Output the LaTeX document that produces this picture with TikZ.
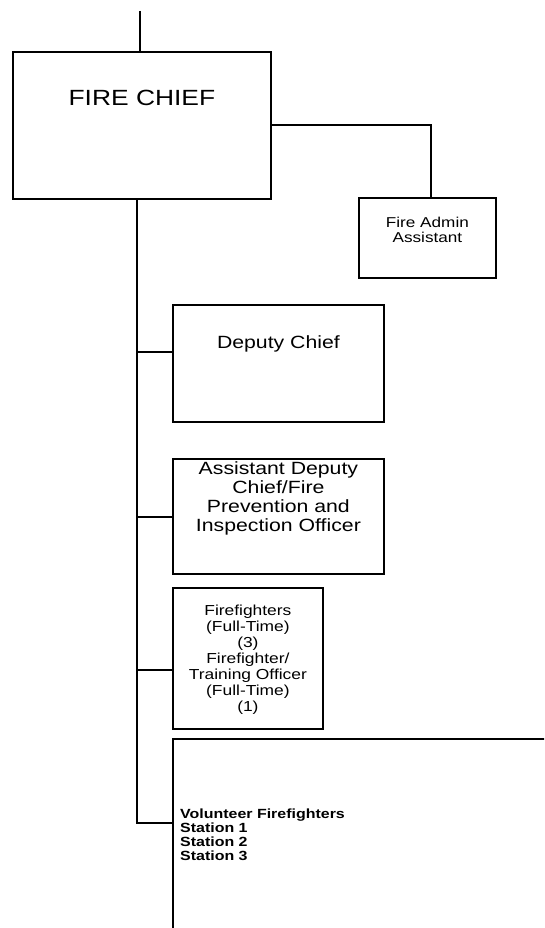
\documentclass[tikz,border=0pt]{standalone}
\usepackage{fontspec}
\setmainfont{Liberation Sans}[FakeStretch=1.2]

\begin{document}
\begin{tikzpicture}[x=1pt, y=-1pt,
    box/.style={draw, line width=1.8pt, anchor=north west, inner sep=0pt},
    link/.style={line width=1.8pt},
    txt/.style={align=center, inner sep=0pt}]

\useasboundingbox (0,0) rectangle (544,928);
\clip (0,0) rectangle (544,928);

% Fire Chief (oben)
\node[box, minimum width=258pt, minimum height=147pt] (chief) at (12,51) {};
\node[txt, font=\fontsize{22}{24}\selectfont] (chieftxt) at ([yshift=-47pt]chief.north) {FIRE CHIEF};
\coordinate (top) at ([xshift=-2pt, yshift=40pt]chief.north);
\coordinate (trunk) at ([xshift=-5pt]chief.south);

% Stab rechts
\node[box, minimum width=137pt, minimum height=80pt] (admin) at (358,197) {};
\node[txt, font=\fontsize{14.3}{15}\selectfont] (admintxt) at ([yshift=-33pt]admin.north) {Fire Admin\\Assistant};

% Linie nach unten
\node[box, minimum width=211pt, minimum height=117pt] (deputy) at (172,304) {};
\node[txt, font=\fontsize{17.7}{19}\selectfont] (deputytxt) at ([yshift=-40pt]deputy.north) {Deputy Chief};

\node[box, minimum width=211pt, minimum height=115pt] (adc) at (172,458) {};
\node[txt, font=\fontsize{17.7}{19}\selectfont] (adctxt) at ([yshift=-40pt]adc.north) {Assistant Deputy\\Chief/Fire\\Prevention and\\Inspection Officer};

\node[box, minimum width=150pt, minimum height=141pt] (ff) at (172,587) {};
\node[txt, font=\fontsize{14.5}{16}\selectfont] (fftxt) at ([yshift=-1pt]ff.center) {Firefighters\\(Full-Time)\\(3)\\Firefighter/\\Training Officer\\(Full-Time)\\(1)};

\node[box, minimum width=420pt, minimum height=260pt] (vol) at (172,738) {};
\node[inner sep=0pt, align=left, anchor=west, font=\bfseries\fontsize{13.3}{14}\selectfont] (voltxt) at ([xshift=8pt, yshift=34pt]vol.west) {Volunteer Firefighters\\Station 1\\Station 2\\Station 3};

% Verbindungen
\draw[link] (top) -- (top |- chief.north);
\draw[link] (chief.east) -| ([xshift=3.5pt]admin.north);
\draw[link] (trunk) |- ([yshift=11.5pt]deputy.west);
\draw[link] (trunk) |- ([yshift=-0.5pt]adc.west);
\draw[link] (trunk) |- ([yshift=-11.5pt]ff.west);
\draw[link] (trunk) |- ([yshift=46pt]vol.west);

\end{tikzpicture}
\end{document}
